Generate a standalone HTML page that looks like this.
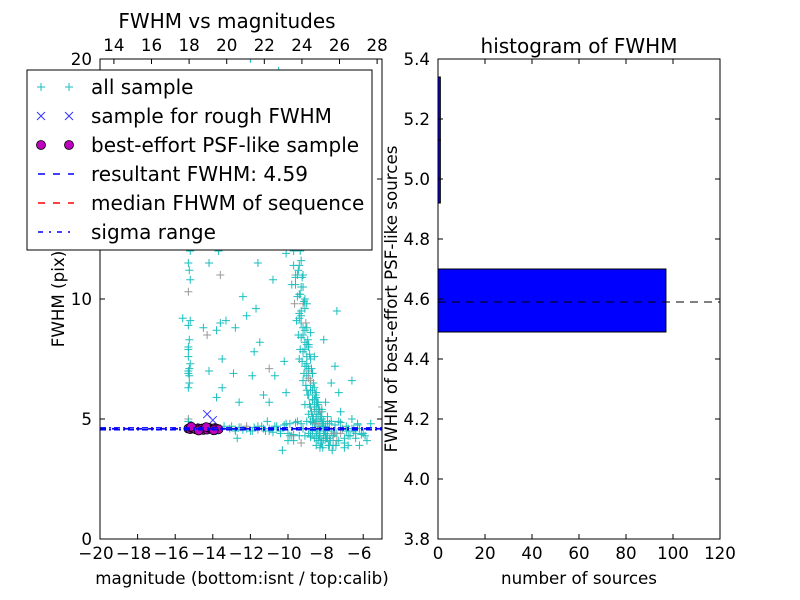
<!DOCTYPE html>
<html><head><meta charset="utf-8"><style>
html,body{margin:0;padding:0;background:#fff;}
svg{display:block;font-family:"DejaVu Sans","Liberation Sans",sans-serif;}
</style></head><body>
<svg id="fig" width="800" height="600" viewBox="0 0 800 600" xmlns="http://www.w3.org/2000/svg">
<rect x="0" y="0" width="800" height="600" fill="#fff"/>
<g id="left"></g>
<g id="right"></g>
</svg>
<script>
// ---- data: scatter (magnitude isnt, FWHM pix) ----
const allMag = [-15.3,-15.2,-15.3,-15.25,-15.3,-15.2,-15.3,-15.25,-15.3,-15.2,-15.3,-15.25,-15.3,-15.3,-15.3,-15.6,-15.25,-15.3,-15.2,-15.3,-15.25,-15.3,
-14.3,-14.2,-13.5,-13.8,-13.6,-13.3,-14.2,-13.7,-13.7,-13.6,-14.5,-12.6,-12.8,-13.5,-13.8,-11.9,-11.5,-11.8,-11.0,-10.7,-11.3,-11.0,-12.2,-11.3,-10.8,-11.6,-12.0,-12.5,-10.9,-10.5,-12.3,-11.2,-10.5,-9.0,-12.0,-6.6,-5.0,-7.3,-12.9,-12.4,-11.7,-10.2,
-10.0,-9.9,-9.8,-9.7,-9.9,-9.6,-9.5,-9.7,-9.4,-9.6,-9.3,-9.5,-9.2,-9.4,-9.3,-9.1,-9.3,-9.0,-9.2,-9.4,-9.1,-8.9,-9.0,-9.2,-8.8,-9.0,-8.9,-8.7,-9.1,-8.8,-8.6,-8.9,-8.7,-8.5,-8.8,-8.6,-8.4,-8.7,-8.5,-8.3,-8.6,-8.4,-8.2,-8.5,-8.3,-8.1,-8.4,-8.2,-8.0,-7.9,-8.3,-7.8,-7.6,-7.7,-7.5,-8.1,-7.4,-9.6,-9.8,-10.1,-9.9,-10.3,-8.0,-7.3,-7.0,-6.8,-7.2,-6.5,
-15.0,-14.6,-14.2,-13.8,-13.4,-13.1,-12.8,-12.5,-12.2,-11.9,-11.6,-11.3,-11.0,-10.7,-10.4,-10.1,-9.8,-9.5,-9.2,-8.9,-8.6,-8.3,-8.0,-7.7,-7.4,-7.1,-6.8,-6.5,-6.2,-5.9,-5.6,-12.7,-11.1,-10.0,-9.3,-8.8,-8.1,-7.5,-6.9,-6.3,-9.7,-8.5,-7.9,-7.2,-6.7,-6.0,-5.4];
const allFwhm = [13.3,12.0,11.5,11.2,10.3,9.1,8.9,8.3,7.6,7.3,7.0,6.5,6.3,5.0,4.9,9.2,6.8,7.9,10.8,8.0,7.1,6.9,
8.5,7.0,7.5,8.7,9.0,9.1,11.5,12.0,14.0,11.0,8.8,5.7,8.8,6.3,5.9,6.8,8.2,7.8,7.1,6.8,6.0,5.7,9.3,12.9,10.8,11.5,14.0,16.0,15.5,13.7,18.0,17.0,19.5,19.3,20.0,6.6,5.5,6.1,6.9,10.1,9.6,7.4,
19.0,17.5,16.2,15.0,14.0,13.3,12.6,12.0,11.4,10.9,10.5,10.1,9.8,9.4,9.0,8.7,8.4,8.1,7.8,7.5,7.2,7.0,6.8,6.6,6.4,6.2,6.0,5.8,5.6,5.5,5.4,5.2,5.1,5.0,4.9,4.8,4.7,4.5,4.4,4.3,4.2,4.1,4.0,3.9,3.8,4.6,5.7,5.3,4.2,4.9,4.5,3.9,4.3,6.5,7.2,8.3,9.5,11.0,17.0,6.1,4.3,3.7,5.7,4.9,4.0,3.9,
4.6,4.6,4.55,4.65,4.6,4.5,4.7,4.6,4.55,4.65,4.6,4.5,4.7,4.6,4.5,4.7,4.4,4.8,4.3,4.9,4.6,4.4,4.8,4.3,4.7,4.5,4.4,4.6,4.3,4.5,4.6,4.3,4.8,4.2,4.9,4.1,4.0,4.3,4.2,4.4,4.5,4.8,4.1,4.9,4.2,4.4,4.3];
// dense ridge of the main sequence (second batch of all-sample points)
const bandMag = [-9.7,-9.6,-9.5,-9.55,-9.45,-9.4,-9.5,-9.35,-9.3,-9.45,-9.25,-9.2,-9.35,-9.15,-9.1,-9.3,-9.05,-9.0,-9.2,-8.95,-8.9,-9.1,-8.85,-8.8,-9.0,-8.75,-8.7,-8.9,-8.65,-8.6,-8.8,-8.55,-8.5,-8.7,-8.45,-8.4,-8.6,-8.35,-8.3,-8.5,-8.25,-8.2,-8.4,-8.15,-8.1,-8.3,-8.05,-8.0,-7.9,-7.8,
-9.6,-9.4,-9.2,-9.0,-8.8,-8.6,-9.3,-9.1,-8.9,-8.7,-9.5,-9.7,-9.8,-9.4,-9.6,-9.0,-8.5,-8.2,-7.9,-7.7,-7.6,-7.4,-7.2,-7.0,-6.8,-6.6,-6.4,-6.2,-6.0,-5.8,
-13.0,-12.6,-12.2,-11.8,-11.4,-11.0,-10.6,-10.2,-9.9,-9.6,-9.3,-9.0,-8.7,-8.4,-8.1,-7.8,-7.5,-7.2,-6.9,-6.6,-6.3,-12.8,-12.4,-12.0,-11.6,-11.2,-10.8,-10.4,-10.0,-9.7,-9.4,-9.1,-8.8,-8.5,-8.2,-7.9,-7.6,-7.3,-7.0,-6.7,-6.4,-6.1,
-10.1,-9.9,-10.2,-9.8,-10.0,-9.85,-10.3,-9.75,-9.9,-9.6,-10.1,-9.7,-9.5,-9.8,-9.4,-9.65,-9.3,-9.55,-9.2,-9.45,-9.1,-9.35,-9.0,-9.25,-8.9,-9.15,-8.8,-9.05,-8.7,-8.95,-8.6,-8.85,-8.5,-8.75,-8.4,-8.65,-8.3,-8.55,-8.2,-8.45,-8.1,-8.35,-7.95,-8.25,-7.85,-8.15,-7.75,-7.65,-7.55,-7.45];
const bandFwhm = [17.0,15.8,14.9,14.2,13.6,13.0,12.5,12.0,11.6,11.2,10.9,10.5,10.2,9.9,9.6,9.3,9.0,8.8,8.5,8.3,8.1,7.9,7.7,7.5,7.3,7.1,6.9,6.7,6.5,6.3,6.2,6.0,5.9,5.8,5.7,5.6,5.5,5.4,5.3,5.2,5.1,5.0,4.9,4.8,4.7,4.6,4.5,4.4,4.3,4.2,
16.5,12.8,11.0,9.8,8.6,7.6,13.8,10.0,8.0,6.9,12.2,18.2,15.5,9.2,10.6,7.2,6.1,5.4,5.1,4.9,3.9,4.1,5.3,3.8,4.6,5.0,4.2,3.9,4.4,4.1,
4.7,4.65,4.7,4.65,4.7,4.6,4.7,4.75,4.8,4.85,4.8,4.9,4.85,4.8,4.9,4.8,4.75,4.85,4.7,4.6,4.75,4.5,4.55,4.5,4.55,4.5,4.45,4.5,4.4,4.35,4.3,4.3,4.25,4.2,4.1,4.2,4.3,4.1,4.2,4.3,4.4,4.35,
18.5,17.8,16.9,16.0,15.3,14.6,14.0,13.5,12.9,12.4,11.9,11.4,11.0,10.6,10.2,9.8,9.5,9.1,8.8,8.5,8.2,7.9,7.6,7.4,7.1,6.9,6.6,6.4,6.2,6.0,5.8,5.6,5.5,5.3,5.2,5.0,4.9,4.8,4.7,4.5,4.4,4.3,4.2,4.0,3.9,3.8,4.1,3.7,4.4,3.9];
const roughMag = [-14.3,-14.0,-15.0,-14.6,-14.2,-13.8];
const roughFwhm = [5.2,4.95,4.6,4.65,4.55,4.6];
const psfMag = [-15.3,-15.2,-15.1,-15.0,-14.9,-14.8,-14.7,-14.6,-14.5,-14.4,-14.3,-14.2,-14.1,-14.0,-13.9,-13.8,-13.7,-15.15,-14.75,-14.35,-13.95];
const psfFwhm = [4.6,4.58,4.62,4.6,4.57,4.61,4.6,4.59,4.55,4.64,4.56,4.63,4.6,4.58,4.62,4.6,4.57,4.68,4.52,4.66,4.53];
const resultFwhm = 4.59, medianFwhm = 4.6, sigmaLo = 4.55, sigmaHi = 4.63;
const xTicks = [-20,-18,-16,-14,-12,-10,-8,-6];
const topTicks = [14,16,18,20,22,24,26,28];
const yTicks = [0,5,10,15,20];
// ---- data: histogram ----
const binLo = [4.49,4.92,5.13];
const binHi = [4.70,5.13,5.34];
const binCount = [97,1,1];
const hxTicks = [0,20,40,60,80,100,120];
const hyTicks = [3.8,4.0,4.2,4.4,4.6,4.8,5.0,5.2,5.4];

const NS="http://www.w3.org/2000/svg";
function mk(p,t,a){const e=document.createElementNS(NS,t);for(const k in a)e.setAttribute(k,a[k]);p.appendChild(e);return e;}
function txt(p,x,y,s,sz,anchor,extra){const e=mk(p,'text',Object.assign({x:x,y:y,'font-size':sz,'text-anchor':anchor||'middle',fill:'#000'},extra||{}));e.textContent=s;return e;}
const TK=16.7, LB=16.7, TT=20, LG=20;

// left axes
const L={x0:100,x1:382,y0:59,y1:539};
const xmin=-20,xmax=-5,ymin=0,ymax=20,calOff=33.26;
const sx=v=>L.x0+(v-xmin)/(xmax-xmin)*(L.x1-L.x0);
const sy=v=>L.y1-(v-ymin)/(ymax-ymin)*(L.y1-L.y0);
const g=document.getElementById('left');
const clipDef=mk(g,'clipPath',{id:'lc'});mk(clipDef,'rect',{x:L.x0,y:L.y0,width:L.x1-L.x0,height:L.y1-L.y0});
const data=mk(g,'g',{'clip-path':'url(#lc)'});


function plus(mx,fy,col){const x=sx(mx),y=sy(fy);
 const c=mk(data,'path',{d:`M${x-4},${y}H${x+4}M${x},${y-4}V${y+4}`,stroke:col,'stroke-width':1});
 
 }
for(let i=0;i<allMag.length;i++) plus(allMag[i],allFwhm[i],(i%9==4?'#999':'#1bbfbf'));
for(let i=0;i<bandMag.length;i++) plus(bandMag[i],bandFwhm[i],(i%11==5?'#999':'#1bbfbf'));
for(let i=0;i<roughMag.length;i++){const x=sx(roughMag[i]),y=sy(roughFwhm[i]);
 const c=mk(data,'path',{d:`M${x-4},${y-4}L${x+4},${y+4}M${x-4},${y+4}L${x+4},${y-4}`,stroke:'#3333ff','stroke-width':1});
 
 }
for(let i=0;i<psfMag.length;i++){
 const c=mk(data,'circle',{cx:sx(psfMag[i]),cy:sy(psfFwhm[i]),r:4.5,fill:'#bf00bf',stroke:'#000','stroke-width':0.8});
 
 }
function hline(p,v,color,dash,name){const e=mk(p,'line',{x1:L.x0,x2:L.x1,y1:sy(v),y2:sy(v),stroke:color,'stroke-width':1.5,'stroke-dasharray':dash});
 
 }
hline(data,medianFwhm,'#ff0000','6,6','median-fwhm-line');
hline(data,resultFwhm,'#0000ff','6,6','resultant-fwhm-line');
hline(data,sigmaLo,'#0000ff','6,3,2,3','sigma-low-line');
hline(data,sigmaHi,'#0000ff','6,3,2,3','sigma-high-line');
mk(g,'rect',{x:L.x0,y:L.y0,width:L.x1-L.x0,height:L.y1-L.y0,fill:'none',stroke:'#000','stroke-width':1});
xTicks.forEach(v=>{const x=sx(v);mk(g,'path',{d:`M${x},${L.y1}v-5`,stroke:'#000'});txt(g,x+(v<0?-4:0),L.y1+20,(v<0?'\u2212':'')+Math.abs(v),TK);});
topTicks.forEach(v=>{const x=sx(v-calOff);mk(g,'path',{d:`M${x},${L.y0}v5`,stroke:'#000'});txt(g,x,L.y0-8,String(v),TK);});
yTicks.forEach(v=>{const y=sy(v);mk(g,'path',{d:`M${L.x0},${y}h5M${L.x1},${y}h-5`,stroke:'#000'});txt(g,L.x0-8,y+6,String(v),TK,'end');});
txt(g,227,28,'FWHM vs magnitudes',TT);
txt(g,242,584,'magnitude (bottom:isnt / top:calib)',LB);
txt(g,64,299,'FWHM (pix)',LB,'middle',{transform:'rotate(-90 64 299)'});
// legend
const lg=mk(g,'g',{});


mk(lg,'rect',{x:27,y:70,width:345,height:180,fill:'#fff',stroke:'#000','stroke-width':1});
const labels=['all sample','sample for rough FWHM','best-effort PSF-like sample','resultant FWHM: 4.59','median FHWM of sequence','sigma range'];
labels.forEach((s,i)=>{const y=87+i*29;
 if(i==0){[41,69].forEach(x=>mk(lg,'path',{d:`M${x-4},${y}H${x+4}M${x},${y-4}V${y+4}`,stroke:'#1bbfbf'}));}
 if(i==1){[41,69].forEach(x=>mk(lg,'path',{d:`M${x-4},${y-4}L${x+4},${y+4}M${x-4},${y+4}L${x+4},${y-4}`,stroke:'#3333ff'}));}
 if(i==2){[41,69].forEach(x=>mk(lg,'circle',{cx:x,cy:y,r:4.5,fill:'#bf00bf',stroke:'#000','stroke-width':0.8}));}
 if(i==3)mk(lg,'line',{x1:38,x2:74,y1:y,y2:y,stroke:'#0000ff','stroke-width':1.5,'stroke-dasharray':'7,8'});
 if(i==4)mk(lg,'line',{x1:38,x2:74,y1:y,y2:y,stroke:'#ff0000','stroke-width':1.5,'stroke-dasharray':'7,8'});
 if(i==5)mk(lg,'line',{x1:38,x2:74,y1:y,y2:y,stroke:'#0000ff','stroke-width':1.5,'stroke-dasharray':'5,6,2,6'});
 const t=txt(lg,91,y+7,s,LG,'start');
 
 
});

// right axes
const R={x0:438,x1:720,y0:59,y1:539};
const hx=v=>R.x0+v/120*(R.x1-R.x0);
const hy=v=>R.y1-(v-3.8)/(5.4-3.8)*(R.y1-R.y0);
const h=document.getElementById('right');
for(let i=0;i<binCount.length;i++){
 const b=mk(h,'rect',{x:hx(0),y:hy(binHi[i]),width:hx(binCount[i])-hx(0),height:hy(binLo[i])-hy(binHi[i]),fill:'#0000ff',stroke:'#000','stroke-width':1});
 
 }
const dl=mk(h,'line',{x1:R.x0,x2:R.x1,y1:hy(resultFwhm),y2:hy(resultFwhm),stroke:'#000','stroke-width':1,'stroke-dasharray':'8,6'});


mk(h,'rect',{x:R.x0,y:R.y0,width:R.x1-R.x0,height:R.y1-R.y0,fill:'none',stroke:'#000','stroke-width':1});
hxTicks.forEach(v=>{const x=hx(v);mk(h,'path',{d:`M${x},${R.y1}v-5M${x},${R.y0}v5`,stroke:'#000'});txt(h,x,R.y1+20,String(v),TK);});
hyTicks.forEach(v=>{const y=hy(v);mk(h,'path',{d:`M${R.x0},${y}h5M${R.x1},${y}h-5`,stroke:'#000'});txt(h,R.x0-8,y+6,v.toFixed(1),TK,'end');});
txt(h,579,53,'histogram of FWHM',TT);
txt(h,579,584,'number of sources',LB);
txt(h,397,299,'FWHM of best-effort PSF-like sources',LB,'middle',{transform:'rotate(-90 397 299)'});
</script>
</body></html>
